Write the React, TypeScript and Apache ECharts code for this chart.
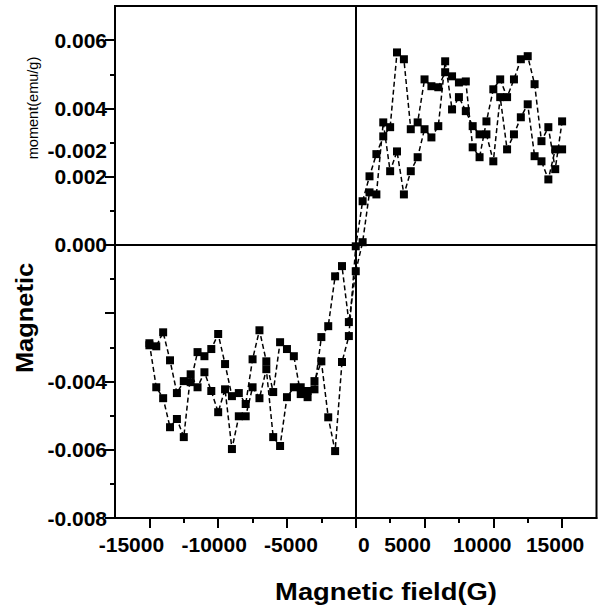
import React, { useEffect, useRef } from "react";
import * as echarts from "echarts";

// Magnetic field (G) at which the moment was sampled, for both sweeps
const FIELD = [
  -15000, -14500, -14000, -13500, -13000, -12500, -12000, -11500, -11000, -10500,
  -10000, -9500, -9000, -8500, -8000, -7500, -7000, -6500, -6000, -5500,
  -5000, -4500, -4000, -3500, -3000, -2500, -2000, -1500, -1000, -500,
  0, 500, 1000, 1500, 2000, 2500, 3000, 3500, 4000, 4500,
  5000, 5500, 6000, 6500, 7000, 7500, 8000, 8500, 9000, 9500,
  10000, 10500, 11000, 11500, 12000, 12500, 13000, 13500, 14000, 14500,
  15000,
];

// Moment (emu/g), sweep A
const MOMENT_A = [
  -0.00288, -0.00417, -0.00449, -0.00534, -0.0051, -0.00563, -0.00379, -0.00417, -0.00373, -0.00428,
  -0.0049, -0.00423, -0.00598, -0.00502, -0.00502, -0.00417, -0.00449, -0.00364, -0.00563, -0.00589,
  -0.00446, -0.00417, -0.00417, -0.00446, -0.00399, -0.00341, -0.00505, -0.00604, -0.00343, -0.00267,
  -0.00004, 0.00128, 0.00201, 0.00266, 0.00318, 0.00345, 0.00564, 0.00544, 0.00339, 0.00359,
  0.00485, 0.00465, 0.00462, 0.00506, 0.00494, 0.00476, 0.00479, 0.00286, 0.00257, 0.00362,
  0.00456, 0.00485, 0.00433, 0.00485, 0.00544, 0.00553, 0.00471, 0.00304, 0.00345, 0.00222,
  0.00362,
];

// Moment (emu/g), sweep B
const MOMENT_B = [
  -0.00294, -0.00297, -0.00256, -0.00338, -0.00434, -0.00399, -0.00402, -0.00314, -0.00326, -0.00305,
  -0.00261, -0.00349, -0.00443, -0.00434, -0.00466, -0.00335, -0.0025, -0.00341, -0.00431, -0.00285,
  -0.00305, -0.00326, -0.00437, -0.00428, -0.00423, -0.0027, -0.00238, -0.00092, -0.00062, -0.00226,
  -0.00077, 0.00008, 0.00154, 0.00148, 0.00359, 0.00216, 0.00274, 0.00148, 0.00216, 0.00257,
  0.00339, 0.00315, 0.00348, 0.00538, 0.00397, 0.00433, 0.00392, 0.00348, 0.00324, 0.00324,
  0.00245, 0.00433, 0.0028, 0.00324, 0.00374, 0.00412, 0.0026, 0.00245, 0.00192, 0.0028,
  0.0028,
];

// Axis ticks and labels
const X_MAJOR = [-15000, -10000, -5000, 0, 5000, 10000, 15000];
const X_MINOR = [-12500, -7500, -2500, 2500, 7500, 12500];
const Y_MAJOR = [-0.008, -0.006, -0.004, -0.002, 0, 0.002, 0.004, 0.006];
const Y_LABELS = [-0.008, -0.006, -0.004, 0, 0.002, 0.004, 0.006];
const Y_MINOR = [-0.007, -0.005, -0.003, -0.001, 0.001, 0.003, 0.005];
const Y_STRAY_LABEL_AT = [0.00278];
const Y_STRAY_LABEL = "-0.002";

const X_TITLE = "Magnetic field(G)";
const Y_TITLE = "Magnetic";
const Y_SUBTITLE = "moment(emu/g)";

const FONT = "'Liberation Sans', Arial, Helvetica, sans-serif";

// horizontal nudges of the x tick labels (px), as in the reference
const X_LABEL_SHIFT: Record<string, number> = {
  "-15000": -18,
  "-10000": -4,
  "-5000": 4,
  "0": 8,
  "5000": -17,
  "10000": -11,
  "15000": -7,
};

export default function App() {
  const ref = useRef<HTMLDivElement>(null);

  useEffect(() => {
    if (!ref.current) return;
    const chart = echarts.init(ref.current, null, { renderer: "svg" });

    const labelBase = {
      fontFamily: FONT,
      fontWeight: "bold" as const,
      fontSize: 21,
      color: "#000",
    };

    const rich: Record<string, any> = {};
    X_MAJOR.forEach((v, i) => {
      const s = X_LABEL_SHIFT[String(v)] || 0;
      rich["s" + i] = {
        ...labelBase,
        padding: s >= 0 ? [0, 0, 0, 2 * s] : [0, -2 * s, 0, 0],
      };
    });

    const grid = { left: 115, right: 1.5, top: 6, bottom: 91 };

    chart.setOption({
      animation: false,
      backgroundColor: "#fff",
      grid: [
        { ...grid, show: true, borderColor: "#000", borderWidth: 2 },
        { ...grid, show: false },
      ],
      xAxis: [
        {
          type: "value",
          gridIndex: 0,
          min: -17500,
          max: 17500,
          position: "bottom",
          axisLine: { show: true, onZero: false, lineStyle: { color: "#000", width: 2 } },
          axisTick: { show: true, customValues: X_MAJOR, length: 10, lineStyle: { color: "#000", width: 2 } },
          axisLabel: {
            customValues: X_MAJOR,
            margin: 16,
            ...labelBase,
            formatter: (v: number) => {
              const i = X_MAJOR.indexOf(v);
              return i >= 0 ? `{s${i}|${v}}` : "";
            },
            rich,
          },
          splitLine: { show: false },
        },
        {
          type: "value",
          gridIndex: 1,
          min: -17500,
          max: 17500,
          position: "bottom",
          axisLine: { show: false, onZero: false },
          axisTick: { show: true, customValues: X_MINOR, length: 5, lineStyle: { color: "#000", width: 2 } },
          axisLabel: { show: false },
          splitLine: { show: false },
        },
      ],
      yAxis: [
        {
          type: "value",
          gridIndex: 0,
          min: -0.008,
          max: 0.007,
          position: "left",
          axisLine: { show: true, onZero: false, lineStyle: { color: "#000", width: 2 } },
          axisTick: { show: true, customValues: Y_MAJOR, length: 10, lineStyle: { color: "#000", width: 2 } },
          axisLabel: {
            customValues: Y_LABELS,
            margin: 8,
            ...labelBase,
            formatter: (v: number) => v.toFixed(3),
          },
          splitLine: { show: false },
        },
        {
          type: "value",
          gridIndex: 1,
          min: -0.008,
          max: 0.007,
          position: "left",
          axisLine: { show: false, onZero: false },
          axisTick: { show: true, customValues: Y_MINOR, length: 5, lineStyle: { color: "#000", width: 2 } },
          axisLabel: {
            customValues: Y_STRAY_LABEL_AT,
            margin: 8,
            ...labelBase,
            formatter: () => Y_STRAY_LABEL,
          },
          splitLine: { show: false },
        },
      ],
      graphic: [
        {
          type: "text",
          x: 386,
          y: 592,
          scaleX: 1.14,
          style: {
            text: X_TITLE,
            fontFamily: FONT,
            fontWeight: "bold",
            fontSize: 24,
            fill: "#000",
            align: "center",
            verticalAlign: "middle",
          },
        },
        {
          type: "text",
          x: 25,
          y: 318,
          rotation: Math.PI / 2,
          scaleX: 1.06,
          style: {
            text: Y_TITLE,
            fontFamily: FONT,
            fontWeight: "bold",
            fontSize: 24,
            fill: "#000",
            align: "center",
            verticalAlign: "middle",
          },
        },
        {
          type: "text",
          x: 32.5,
          y: 108,
          rotation: Math.PI / 2,
          scaleX: 0.97,
          style: {
            text: Y_SUBTITLE,
            fontFamily: FONT,
            fontSize: 15,
            fill: "#000",
            align: "center",
            verticalAlign: "middle",
          },
        },
      ],
      series: [
        {
          name: "A",
          type: "line",
          xAxisIndex: 0,
          yAxisIndex: 0,
          data: FIELD.map((f, i) => [f, MOMENT_A[i]]),
          symbol: "rect",
          symbolSize: 8,
          itemStyle: { color: "#000" },
          lineStyle: { color: "#000", width: 1.5, type: [5, 3] },
          markLine: {
            silent: true,
            symbol: "none",
            label: { show: false },
            lineStyle: { color: "#000", type: "solid", width: 2 },
            data: [{ xAxis: 0 }, { yAxis: 0 }],
          },
          z: 3,
        },
        {
          name: "B",
          type: "line",
          xAxisIndex: 0,
          yAxisIndex: 0,
          data: FIELD.map((f, i) => [f, MOMENT_B[i]]),
          symbol: "rect",
          symbolSize: 8,
          itemStyle: { color: "#000" },
          lineStyle: { color: "#000", width: 1.5, type: [5, 3] },
          z: 3,
        },
      ],
    });

    return () => chart.dispose();
  }, []);

  return (
    <div
      ref={ref}
      style={{ position: "absolute", left: 0, top: 0, width: 598, height: 609 }}
    />
  );
}
